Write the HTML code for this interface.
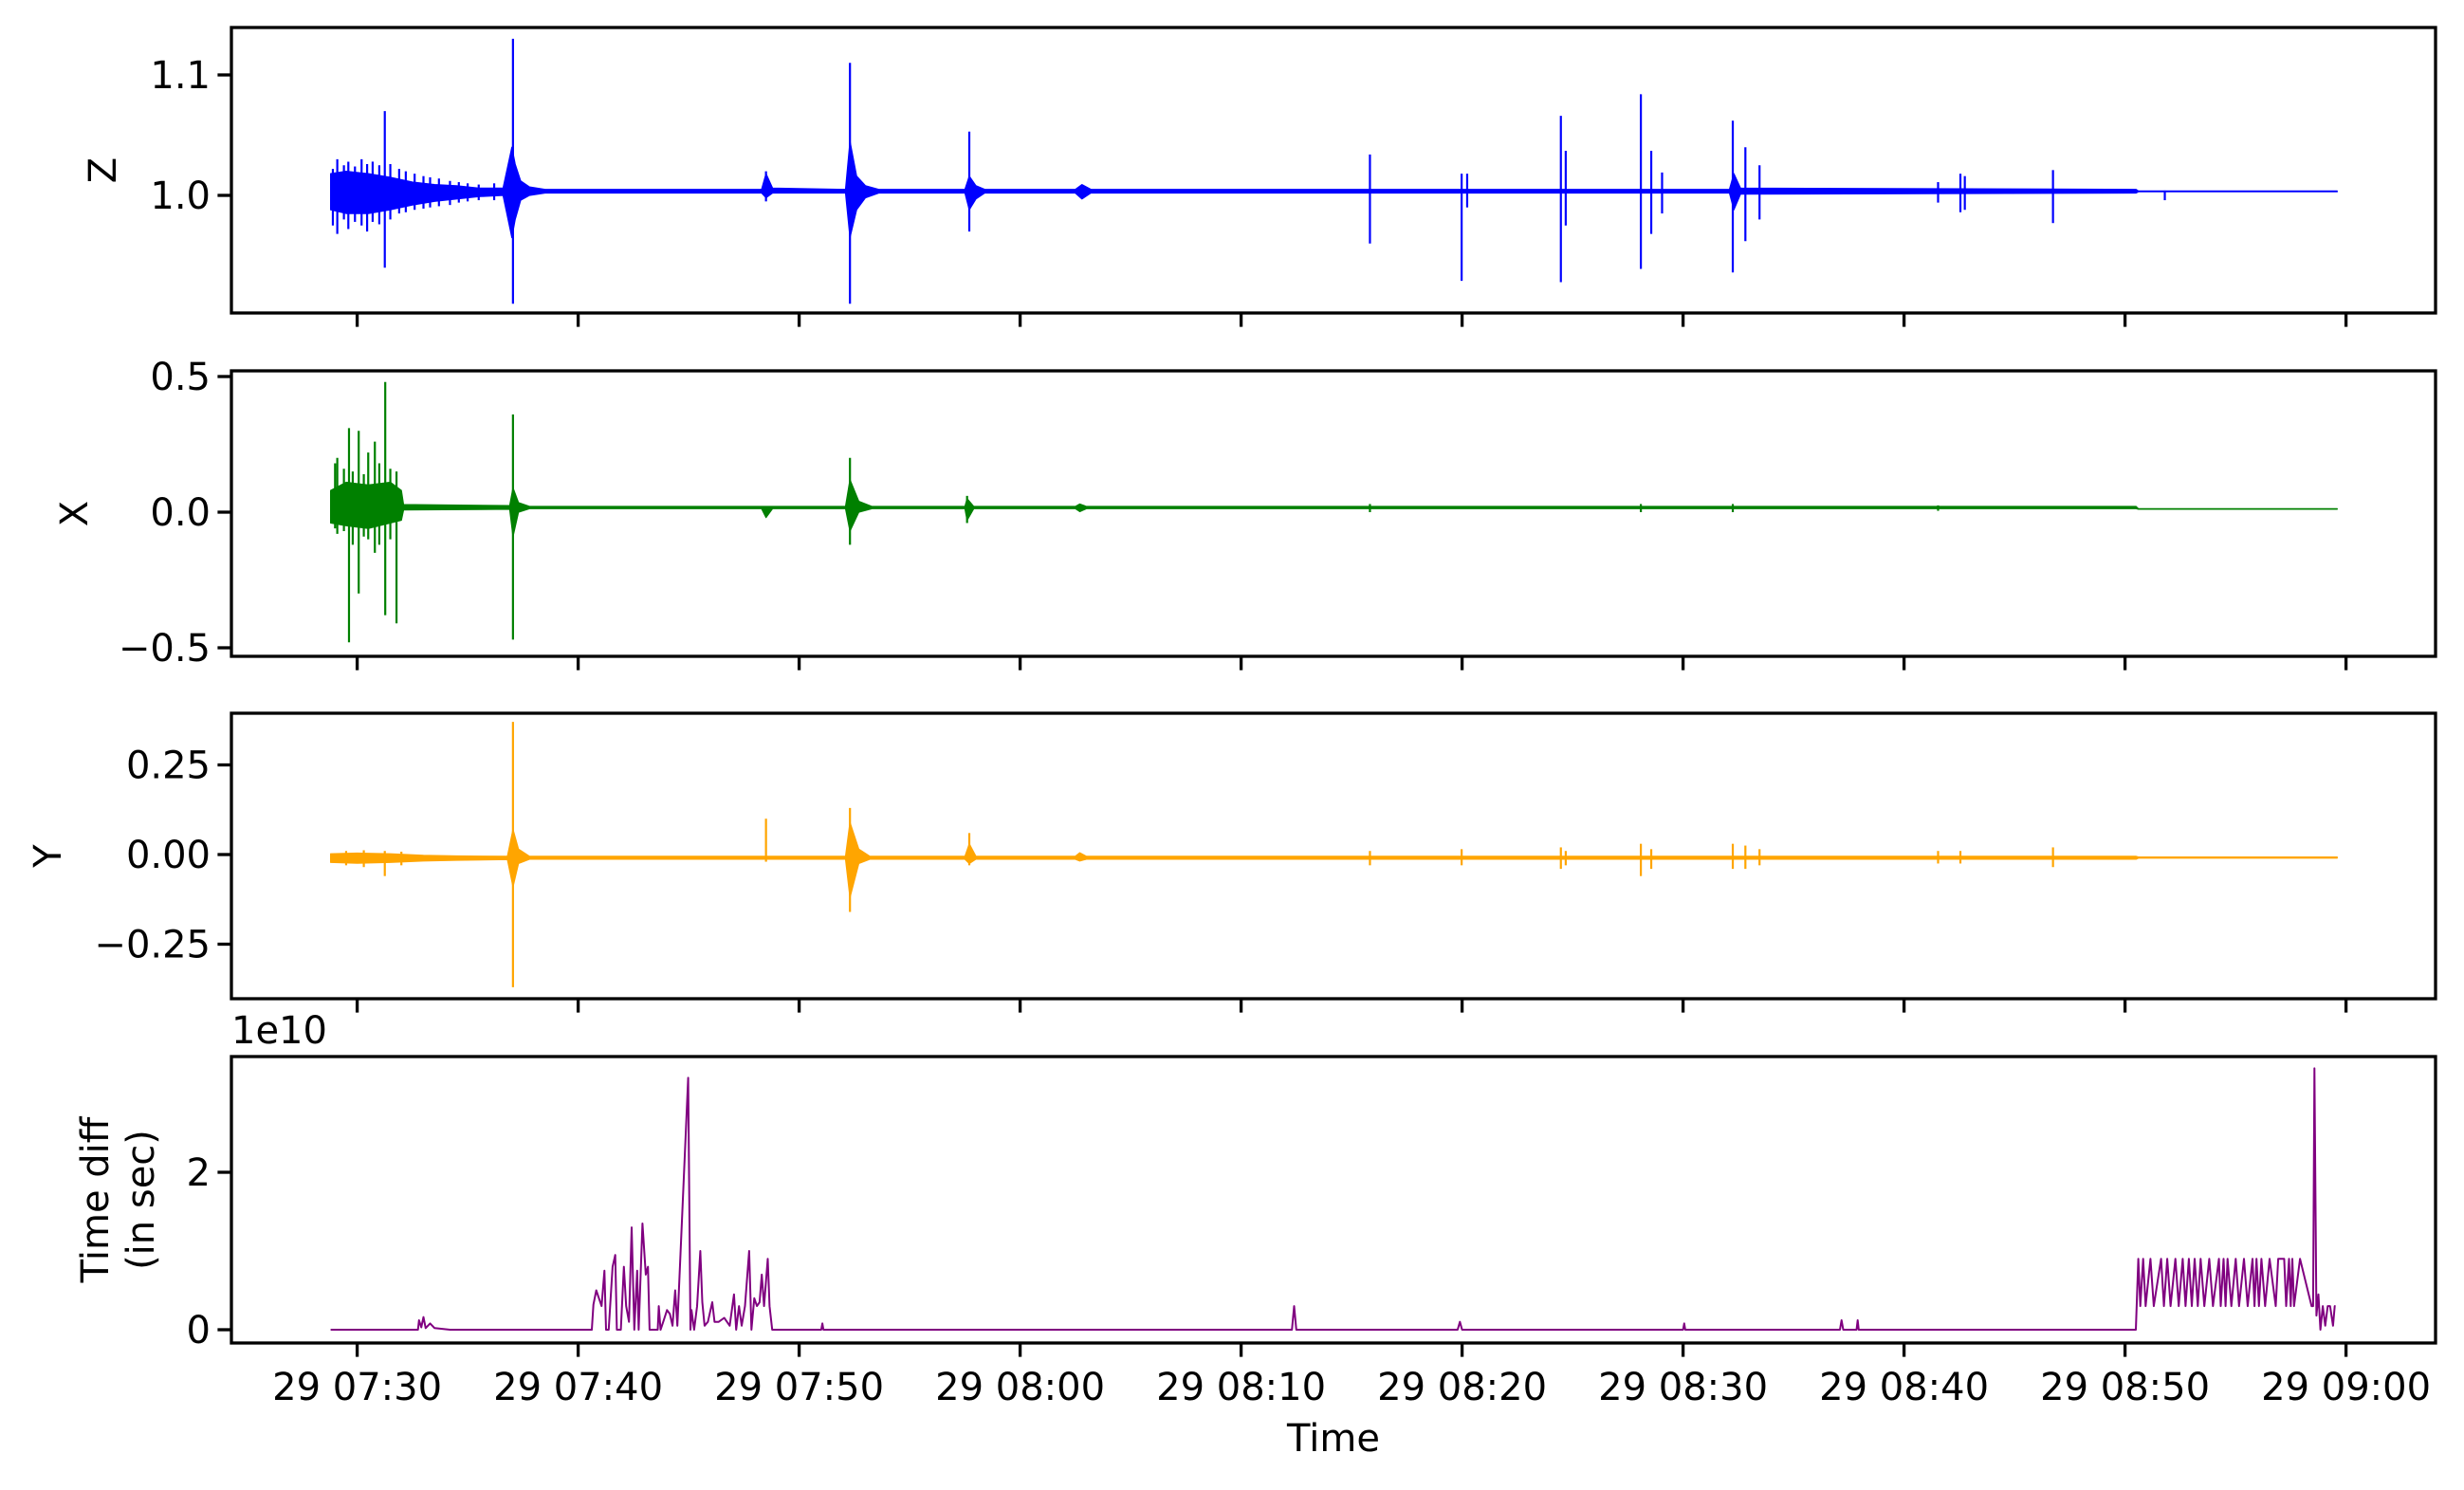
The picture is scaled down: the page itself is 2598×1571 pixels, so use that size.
<!DOCTYPE html>
<html><head><meta charset="utf-8">
<style>
html,body{margin:0;padding:0;background:#fff;}
svg{display:block;font-family:"DejaVu Sans","Liberation Sans",sans-serif;}
</style></head>
<body>
<svg id="chart" width="2598" height="1571" viewBox="0 0 2598 1571" xmlns="http://www.w3.org/2000/svg"></svg>
<script>
// ---------- shared x axis (minutes after 07:30) ----------
const xTickMinutes = [0,10,20,30,40,50,60,70,80,90];
const xTickLabels = ["29 07:30","29 07:40","29 07:50","29 08:00","29 08:10","29 08:20","29 08:30","29 08:40","29 08:50","29 09:00"];

// ---------- Z ----------
const zEnvT  = [-1.2,-0.5,0.5,1.5,2.5,3.5,4.5,5.5,6.6,7.0,7.15,7.4,7.8,8.5,18.3,18.5,18.8,22.1,22.3,22.6,23.0,23.6,27.5,27.7,28.0,28.4,32.5,32.8,33.2,62.1,62.3,62.6,80.5,80.6,89.6];
const zEnvHi = [1.018,1.020,1.018,1.015,1.011,1.009,1.008,1.006,1.006,1.040,1.026,1.012,1.007,1.005,1.005,1.018,1.006,1.005,1.045,1.016,1.008,1.005,1.005,1.016,1.008,1.005,1.005,1.009,1.005,1.005,1.018,1.006,1.005,1.0036,1.0036];
const zEnvLo = [0.988,0.985,0.985,0.988,0.992,0.995,0.997,0.999,1.000,0.965,0.980,0.996,1.000,1.002,1.002,0.998,1.002,1.002,0.965,0.988,0.998,1.002,1.002,0.988,0.997,1.002,1.002,0.997,1.002,1.002,0.988,1.001,1.002,1.003,1.003];
const zSpkT  = [-1.1,-0.9,-0.6,-0.4,-0.1,0.2,0.45,0.7,1.0,1.25,1.5,1.9,2.2,2.6,3.0,3.3,3.7,4.2,4.6,5.0,5.5,6.2,7.05,18.5,22.3,27.7,45.83,49.98,50.23,54.47,54.69,58.09,58.56,59.05,62.25,62.82,63.46,71.54,72.55,72.75,76.74,81.8];
const zSpkHi = [1.022,1.030,1.025,1.028,1.024,1.030,1.026,1.028,1.025,1.070,1.026,1.022,1.020,1.018,1.016,1.015,1.014,1.012,1.011,1.010,1.009,1.010,1.130,1.020,1.110,1.053,1.034,1.018,1.018,1.066,1.037,1.084,1.037,1.019,1.062,1.040,1.025,1.011,1.018,1.016,1.021,1.004];
const zSpkLo = [0.975,0.968,0.980,0.972,0.978,0.975,0.970,0.978,0.976,0.940,0.980,0.985,0.986,0.988,0.989,0.990,0.991,0.992,0.994,0.995,0.996,0.996,0.910,0.995,0.910,0.970,0.960,0.929,0.990,0.928,0.975,0.939,0.968,0.985,0.936,0.962,0.980,0.994,0.986,0.988,0.977,0.996];

// ---------- X ----------
const xEnvT  = [-1.2,-0.5,0.5,1.5,2.0,2.1,6.9,7.05,7.3,7.8,18.3,18.5,18.8,22.1,22.3,22.7,23.3,27.5,27.6,27.9,32.5,32.7,33.0,80.5,80.6,89.6];
const xEnvHi = [0.08,0.11,0.10,0.11,0.08,0.028,0.024,0.09,0.035,0.021,0.021,0.021,0.021,0.021,0.12,0.04,0.021,0.021,0.05,0.021,0.021,0.03,0.021,0.021,0.013,0.013];
const xEnvLo = [-0.04,-0.05,-0.06,-0.04,-0.03,0.008,0.011,-0.09,0.00,0.013,0.013,-0.02,0.013,0.013,-0.07,0.00,0.013,0.013,-0.03,0.013,0.013,0.002,0.013,0.013,0.011,0.011];
const xSpkT  = [-1.0,-0.9,-0.6,-0.37,-0.2,0.07,0.3,0.5,0.8,1.0,1.27,1.5,1.78,7.05,22.3,27.6,45.83,58.09,62.25,71.54];
const xSpkHi = [0.18,0.20,0.16,0.31,0.15,0.30,0.14,0.22,0.26,0.18,0.48,0.16,0.15,0.36,0.20,0.06,0.03,0.03,0.03,0.025];
const xSpkLo = [-0.06,-0.08,-0.07,-0.48,-0.12,-0.30,-0.09,-0.10,-0.15,-0.12,-0.38,-0.10,-0.41,-0.47,-0.12,-0.04,0.00,0.00,0.00,0.005];

// ---------- Y ----------
const yEnvT  = [-1.2,0.0,1.5,3.0,4.5,6.8,7.05,7.3,7.8,22.1,22.3,22.7,23.2,27.5,27.7,28.0,32.5,32.7,33.0,80.5,80.6,89.6];
const yEnvHi = [0.002,0.004,0.002,-0.002,-0.004,-0.005,0.07,0.015,-0.005,-0.005,0.09,0.015,-0.005,-0.005,0.03,-0.005,-0.005,0.005,-0.005,-0.005,-0.007,-0.007];
const yEnvLo = [-0.022,-0.024,-0.022,-0.018,-0.016,-0.014,-0.09,-0.025,-0.013,-0.013,-0.12,-0.025,-0.013,-0.013,-0.025,-0.013,-0.013,-0.018,-0.013,-0.013,-0.010,-0.010];
const ySpkT  = [-0.5,0.3,1.25,2.0,7.05,18.5,22.3,27.7,45.83,49.98,54.47,54.69,58.09,58.56,62.25,62.82,63.46,71.54,72.55,76.74];
const ySpkHi = [0.010,0.012,0.010,0.008,0.370,0.100,0.130,0.060,0.010,0.015,0.020,0.010,0.030,0.015,0.030,0.025,0.015,0.010,0.010,0.020];
const ySpkLo = [-0.030,-0.035,-0.060,-0.030,-0.370,-0.020,-0.160,-0.030,-0.030,-0.030,-0.040,-0.030,-0.060,-0.040,-0.040,-0.040,-0.030,-0.025,-0.025,-0.035];

// ---------- Time diff (units of 1e10) ----------
const tT = [-1.2,2.75,2.8,2.9,3.0,3.1,3.3,3.5,4.2,10.62,10.69,10.82,10.94,11.06,11.19,11.26,11.38,11.56,11.68,11.75,11.93,12.07,12.17,12.30,12.42,12.54,12.67,12.74,12.91,13.06,13.16,13.23,13.60,13.65,13.73,13.85,14.02,14.15,14.27,14.39,14.49,14.98,15.08,15.13,15.25,15.38,15.53,15.62,15.72,15.87,16.07,16.17,16.36,16.61,16.86,17.05,17.15,17.28,17.40,17.55,17.74,17.84,17.97,18.09,18.21,18.31,18.41,18.58,18.66,18.78,21.0,21.05,21.1,42.3,42.4,42.5,49.8,49.9,50.0,60.0,60.05,60.1,67.1,67.17,67.25,67.85,67.9,67.95,80.49,80.60,80.69,80.82,80.93,81.15,81.30,81.63,81.76,81.91,82.06,82.28,82.43,82.61,82.74,82.89,83.02,83.15,83.29,83.42,83.59,83.81,83.98,84.25,84.33,84.46,84.55,84.64,84.81,85.01,85.16,85.38,85.55,85.77,85.86,85.95,86.06,86.17,86.34,86.54,86.82,86.93,87.20,87.29,87.42,87.50,87.57,87.65,87.92,88.44,88.51,88.57,88.66,88.75,88.84,88.95,89.06,89.17,89.28,89.41,89.49,89.53];
const tV = [0,0,0.12,0.03,0.16,0.02,0.08,0.02,0,0,0.32,0.50,0.40,0.30,0.75,0,0,0.80,0.95,0,0,0.80,0.30,0.10,1.30,0,0.75,0,1.35,0.70,0.80,0,0,0.30,0,0.10,0.25,0.20,0.05,0.50,0.05,3.20,0,0.25,0,0.30,1.00,0.35,0.05,0.10,0.35,0.10,0.10,0.15,0.05,0.45,0,0.30,0.05,0.30,1.00,0,0.40,0.30,0.35,0.70,0.30,0.90,0.30,0,0,0.08,0,0,0.30,0,0,0.10,0,0,0.08,0,0,0.12,0,0,0.12,0,0,0.90,0.30,0.90,0.30,0.90,0.30,0.90,0.30,0.90,0.30,0.90,0.30,0.90,0.30,0.90,0.30,0.90,0.30,0.90,0.30,0.90,0.30,0.90,0.30,0.90,0.30,0.90,0.30,0.90,0.30,0.90,0.30,0.90,0.30,0.90,0.30,0.90,0.30,0.90,0.30,0.90,0.90,0.30,0.90,0.30,0.90,0.30,0.90,0.30,0.30,3.32,0.18,0.45,0.00,0.30,0.05,0.30,0.30,0.05,0.30,0.30,0.05,0.30];

const NS = "http://www.w3.org/2000/svg";
const svg = document.getElementById('chart');
const L = 244, R = 2568;
const xs = m => 376.6 + m * 23.3;
function el(tag, attrs, parent) {
  const e = document.createElementNS(NS, tag);
  for (const k in attrs) e.setAttribute(k, attrs[k]);
  (parent || svg).appendChild(e);
  return e;
}
function txt(s, attrs, parent) { const e = el('text', attrs, parent); e.textContent = s; return e; }

const panels = [
  {key:'z', top:29, bot:330, color:'#0000ff', ys: v => 206 - (v - 1.0) * 1270, ticks:[1.0,1.1], labels:["1.0","1.1"], title:["Z"], tx:108,
   envT:zEnvT, envHi:zEnvHi, envLo:zEnvLo, spkT:zSpkT, spkHi:zSpkHi, spkLo:zSpkLo},
  {key:'x', top:391, bot:692, color:'#008000', ys: v => 540 - v * 286, ticks:[-0.5,0,0.5], labels:["\u22120.5","0.0","0.5"], title:["X"], tx:78,
   envT:xEnvT, envHi:xEnvHi, envLo:xEnvLo, spkT:xSpkT, spkHi:xSpkHi, spkLo:xSpkLo},
  {key:'y', top:752, bot:1053, color:'#ffa500', ys: v => 901 - v * 378, ticks:[-0.25,0,0.25], labels:["\u22120.25","0.00","0.25"], title:["Y"], tx:50,
   envT:yEnvT, envHi:yEnvHi, envLo:yEnvLo, spkT:ySpkT, spkHi:ySpkHi, spkLo:ySpkLo},
  {key:'t', top:1114, bot:1416, color:'#800080', ys: v => 1402 - v * 83, ticks:[0,2], labels:["0","2"], title:["Time diff","(in sec)"], tx:124}
];

panels.forEach(p => {
  const g = el('g', {});
  
  
  const clipId = 'clip-' + p.key;
  const cp = el('clipPath', {id: clipId}, g);
  el('rect', {x:L, y:p.top, width:R-L, height:p.bot-p.top}, cp);
  const dg = el('g', {'clip-path':'url(#'+clipId+')'}, g);
  
  
  if (p.envT) {
    let pts = [];
    for (let i = 0; i < p.envT.length; i++) pts.push(xs(p.envT[i]).toFixed(1)+','+p.ys(p.envHi[i]).toFixed(1));
    for (let i = p.envT.length - 1; i >= 0; i--) pts.push(xs(p.envT[i]).toFixed(1)+','+p.ys(p.envLo[i]).toFixed(1));
    const env = el('polygon', {points: pts.join(' '), fill:p.color, stroke:p.color, 'stroke-width':1.2, 'stroke-linejoin':'round'}, dg);
    
    
    for (let i = 0; i < p.spkT.length; i++) {
      const x = xs(p.spkT[i]);
      const s = el('line', {x1:x, x2:x, y1:p.ys(p.spkHi[i]), y2:p.ys(p.spkLo[i]), stroke:p.color, 'stroke-width':2.2}, dg);
      
      
    }
  } else {
    const pts = tT.map((t, i) => xs(t).toFixed(1)+','+p.ys(tV[i]).toFixed(1)).join(' ');
    const ln = el('polyline', {points: pts, fill:'none', stroke:p.color, 'stroke-width':2, 'stroke-linejoin':'round'}, dg);
    
    
  }
  const fr = el('rect', {x:L, y:p.top, width:R-L, height:p.bot-p.top, fill:'none', stroke:'#000', 'stroke-width':3.3}, g);
  
  
  p.ticks.forEach((v, i) => {
    const y = p.ys(v);
    el('line', {x1:L-14.6, x2:L, y1:y, y2:y, stroke:'#000', 'stroke-width':3.3}, g);
    const t = txt(p.labels[i], {x:L-22, y:y+14, 'text-anchor':'end', 'font-size':40}, g);
    
    
  });
  xTickMinutes.forEach(m => {
    const x = xs(m);
    el('line', {x1:x, x2:x, y1:p.bot, y2:p.bot+14.6, stroke:'#000', 'stroke-width':3.3}, g);
  });
  const cy = (p.top + p.bot) / 2;
  const tt = el('text', {transform:'translate('+p.tx+','+cy+') rotate(-90)', 'text-anchor':'middle', 'font-size':40}, g);
  
  
  if (p.title.length === 1) { tt.setAttribute('y', 14); tt.textContent = p.title[0]; }
  else {
    const a = el('tspan', {x:0, y:-10}, tt); a.textContent = p.title[0];
    const b = el('tspan', {x:0, y:38}, tt); b.textContent = p.title[1];
  }
});

xTickMinutes.forEach((m, i) => {
  const t = txt(xTickLabels[i], {x:xs(m), y:1476, 'text-anchor':'middle', 'font-size':40});
  
  
});
const off = txt('1e10', {x:244, y:1100, 'font-size':40});


const xt = txt('Time', {x:1406, y:1530, 'text-anchor':'middle', 'font-size':40});


</script>
</body></html>
